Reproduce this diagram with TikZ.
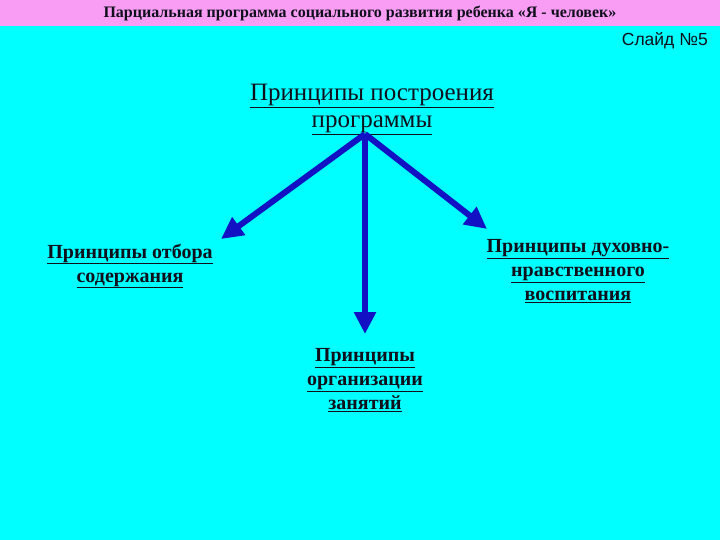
\documentclass[tikz,border=0pt]{standalone}
\usepackage{fontspec}
\setmainfont{Liberation Serif}
\setsansfont{Liberation Sans}
\usetikzlibrary{arrows.meta}
\definecolor{bg}{HTML}{00FFFF}
\definecolor{band}{HTML}{F89CF4}
\definecolor{arr}{HTML}{1212C4}
\definecolor{txt}{HTML}{10101C}
\tikzset{
  leaf/.style={font=\bfseries\fontsize{20}{24}\selectfont, text=txt, align=center, inner sep=0pt},
  conn/.style={draw=arr, line width=6pt, -{Triangle[length=22pt,width=21pt]}},
}
\begin{document}
\begin{tikzpicture}[x=1pt,y=-1pt]
\fill[bg] (0,0) rectangle (720,540);
\useasboundingbox (0,0) rectangle (720,540);
\fill[band] (0,0) rectangle (720,26);
\node[font=\bfseries\fontsize{16}{18}\selectfont, text=txt, inner sep=0pt] (head) at (360,13.5) {Парциальная программа социального развития ребенка «Я - человек»};
\node[font=\sffamily\fontsize{17.5}{20}\selectfont, text=txt, anchor=east, inner sep=0pt] (slide) at (708,41) {Слайд №5};
\node[font=\fontsize{25}{27}\selectfont, text=txt, align=center, inner sep=0pt] (title) at (372,109) {\underline{Принципы построения}\\\underline{программы}};
\coordinate (o) at (365,134);
\node[leaf] (left) at (130,266) {\underline{Принципы отбора}\\\underline{содержания}};
\node[leaf] (right) at (578,271.5) {\underline{Принципы духовно-}\\\underline{нравственного}\\\underline{воспитания}};
\node[leaf] (bottom) at (365,380) {\underline{Принципы}\\\underline{организации}\\\underline{занятий}};
\coordinate (tl) at (221,239);
\coordinate (tr) at (487,229);
\coordinate (tb) at (365,334);
\draw[conn] (o) -- (tl);
\draw[conn] (o) -- (tr);
\draw[conn] (o) -- (tb);
\end{tikzpicture}
\end{document}
